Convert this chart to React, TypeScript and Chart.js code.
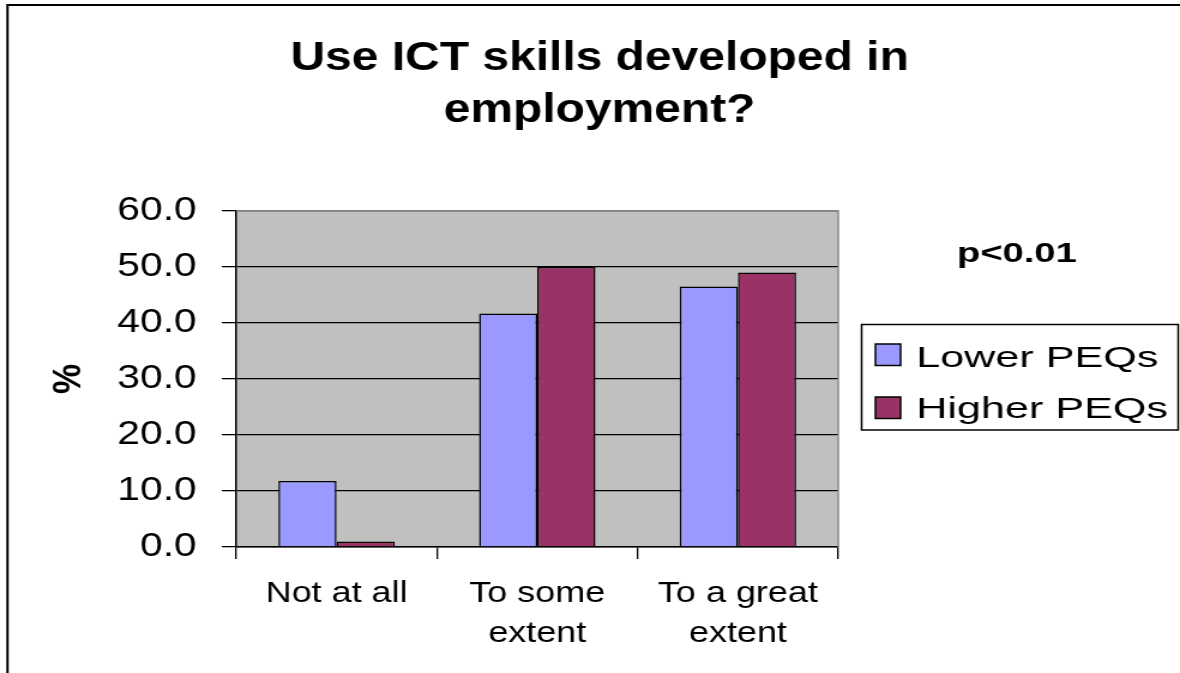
import React, { useEffect, useRef } from "react";
import { Chart, registerables } from "chart.js";

Chart.register(...registerables);

// ---------- data ----------
const categories: (string | string[])[] = ["Not at all", ["To some", "extent"], ["To a great", "extent"]];
const lowerPEQs = [11.8, 41.7, 46.5];
const higherPEQs = [1.0, 50.0, 49.0];
const seriesNames = ["Lower PEQs", "Higher PEQs"];
const seriesColors = ["#9999FF", "#993366"];
const yTicks = [0, 10, 20, 30, 40, 50, 60];
const chartTitle = ["Use ICT skills developed in", "employment?"];
const yAxisTitle = "%";
const noteText = "p<0.01";

// ---------- layout ----------
const PAGE_W = 1180;
const PAGE_H = 673;
const CANVAS_W = 984;
const SX = PAGE_W / CANVAS_W;
const FONT = "'Liberation Sans', Arial, sans-serif";

const decorPlugin = {
  id: "decor",
  beforeDraw(chart: any) {
    const { ctx, chartArea: a } = chart;
    ctx.save();
    ctx.fillStyle = "#ffffff";
    ctx.fillRect(0, 0, chart.width, chart.height);
    ctx.fillStyle = "#C0C0C0";
    ctx.fillRect(a.left, a.top, a.right - a.left, a.bottom - a.top);
    ctx.restore();
  },
  beforeDatasetsDraw(chart: any) {
    const { ctx, chartArea: a } = chart;
    ctx.save();
    ctx.strokeStyle = "#808080";
    ctx.lineWidth = 1.3;
    ctx.beginPath();
    ctx.moveTo(a.left, a.top);
    ctx.lineTo(a.right, a.top);
    ctx.lineTo(a.right, a.bottom);
    ctx.stroke();
    ctx.restore();
  },
  afterDraw(chart: any) {
    const { ctx } = chart;
    ctx.save();
    // outer frame (left and top visible)
    ctx.strokeStyle = "#000";
    ctx.lineWidth = 2;
    ctx.beginPath();
    ctx.moveTo(6.25, PAGE_H + 10);
    ctx.lineTo(6.25, 5);
    ctx.lineTo(CANVAS_W + 10, 5);
    ctx.stroke();

    // note
    ctx.fillStyle = "#000";
    ctx.font = `bold 27px ${FONT}`;
    ctx.textAlign = "center";
    ctx.textBaseline = "alphabetic";
    ctx.save();
    ctx.translate(848, 261.7);
    ctx.scale(1.18, 1);
    ctx.fillText(noteText, 0, 0);
    ctx.restore();

    // legend box
    ctx.lineWidth = 1.5;
    ctx.strokeStyle = "#000";
    ctx.strokeRect(718.5, 324.5, 264, 105.5);
    const markerTops = [344, 397];
    const baselines = [366.7, 418.3];
    chart.data.datasets.forEach((ds: any, i: number) => {
      ctx.fillStyle = ds.backgroundColor;
      ctx.fillRect(730, markerTops[i], 21, 21.5);
      ctx.lineWidth = 1.5;
      ctx.strokeStyle = "#000";
      ctx.strokeRect(730, markerTops[i], 21, 21.5);
      ctx.fillStyle = "#000";
      ctx.font = `30px ${FONT}`;
      ctx.textAlign = "left";
      ctx.save();
      ctx.translate(764, baselines[i]);
      ctx.scale(1.2, 1);
      ctx.fillText(ds.label, 0, 0);
      ctx.restore();
    });
    ctx.restore();
  },
};

export default function App() {
  const ref = useRef<HTMLCanvasElement | null>(null);

  useEffect(() => {
    if (!ref.current) return;
    const chart = new Chart(ref.current, {
      type: "bar",
      data: {
        labels: categories as any,
        datasets: [
          {
            label: seriesNames[0],
            data: lowerPEQs,
            backgroundColor: seriesColors[0],
            borderColor: "#000",
            borderWidth: 1.5,
            borderSkipped: "start",
            categoryPercentage: 0.58,
            barPercentage: 1,
          },
          {
            label: seriesNames[1],
            data: higherPEQs,
            backgroundColor: seriesColors[1],
            borderColor: "#000",
            borderWidth: 1.5,
            borderSkipped: "start",
            categoryPercentage: 0.58,
            barPercentage: 1,
          },
        ],
      },
      options: {
        responsive: false,
        animation: false,
        devicePixelRatio: 1,
        layout: { padding: { left: 16, right: 0, top: 0, bottom: 0 } },
        plugins: {
          legend: { display: false },
          tooltip: { enabled: false },
          title: {
            display: true,
            text: chartTitle,
            color: "#000",
            font: { family: FONT, size: 40, weight: "bold", lineHeight: 1.3 },
            padding: { top: 33.4, bottom: 73.6 },
          },
        },
        scales: {
          x: {
            type: "category",
            offset: true,
            grid: {
              display: true,
              offset: true,
              drawOnChartArea: false,
              drawTicks: true,
              tickLength: 12,
              color: "#000",
              lineWidth: 1.3,
            },
            border: { display: true, color: "#000", width: 1.5 },
            ticks: {
              color: "#000",
              font: { family: FONT, size: 30, lineHeight: 1.31 },
              padding: 15.3,
              maxRotation: 0,
              autoSkip: false,
            },
            afterFit(scale: any) {
              scale.height = 126;
            },
          },
          y: {
            type: "linear",
            position: "left",
            min: 0,
            max: 60,
            afterBuildTicks(scale: any) {
              scale.ticks = yTicks.map((v) => ({ value: v }));
            },
            grid: {
              drawTicks: true,
              tickLength: 12,
              color: (c: any) => (c.tick && c.tick.value === 60 ? "#808080" : "#000"),
              tickColor: "#000",
              lineWidth: 1.3,
            },
            border: { display: true, color: "#000", width: 1.5 },
            ticks: {
              color: "#000",
              font: { family: FONT, size: 34 },
              padding: 21,
              callback: (v: any) => Number(v).toFixed(1),
            },
            title: {
              display: true,
              text: yAxisTitle,
              color: "#000",
              font: { family: FONT, size: 34, weight: "bold", lineHeight: 1.2 },
              padding: { top: 20.8, bottom: 0 },
            },
            afterFit(scale: any) {
              scale.width = 181;
            },
          },
          y2: {
            type: "linear",
            position: "right",
            display: true,
            grid: { display: false, drawTicks: false },
            border: { display: false },
            ticks: { display: false },
            afterFit(scale: any) {
              scale.width = 285;
            },
          },
        },
      },
      plugins: [decorPlugin],
    });
    return () => chart.destroy();
  }, []);

  return (
    <div
      style={{
        position: "fixed",
        left: 0,
        top: 0,
        width: PAGE_W,
        height: PAGE_H,
        overflow: "hidden",
        background: "#fff",
      }}
    >
      <canvas
        ref={ref}
        width={CANVAS_W}
        height={PAGE_H}
        style={{ display: "block", transform: `scaleX(${SX})`, transformOrigin: "0 0" }}
      />
    </div>
  );
}
